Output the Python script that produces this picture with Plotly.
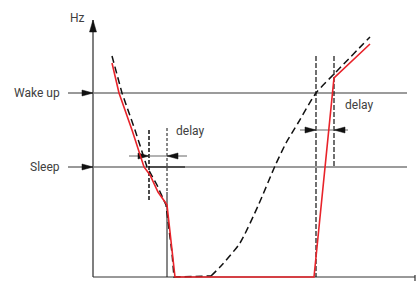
import plotly.graph_objects as go

# ---- data (time units, frequency units) ----
wake_level = 184
sleep_level = 110

red_t = [19, 26, 39, 47, 51, 57, 65, 72, 74, 82, 221, 241, 277]
red_f = [214, 184, 147, 121, 110, 102, 85, 75, 72, 0, 0, 199, 233]

dash_left_t = [19, 29, 42, 50, 54, 64, 71, 73, 79, 81, 118]
dash_left_f = [221, 184, 147, 121, 110, 92, 77, 72, 24, 0, 1]

dash_curve_t = [118, 128, 147, 165, 182, 193, 205, 223, 242, 277]
dash_curve_f = [1, 11, 34, 71, 111, 134, 154, 184, 204, 240]

# delay markers: [t_start, t_end]
left_delay = [56, 74]
right_delay = [223, 241]
left_delay_f = 121
right_delay_f = 147

axis_t_max = 322
axis_f_max = 257

RED = "#e8232a"
TXT = "#404040"
FONT = "Roboto, Liberation Sans, sans-serif"

fig = go.Figure()


def head(tx, ty, direction, length=10, half=3):
    if direction == "right":
        xs = [tx, tx - length, tx - length, tx]
        ys = [ty, ty + half, ty - half, ty]
    elif direction == "left":
        xs = [tx, tx + length, tx + length, tx]
        ys = [ty, ty + half, ty - half, ty]
    else:  # up
        xs = [tx, tx - half, tx + half, tx]
        ys = [ty, ty - length, ty - length, ty]
    fig.add_trace(go.Scatter(x=xs, y=ys, mode="lines", fill="toself",
                             fillcolor="#111", line=dict(color="#111", width=0.5),
                             hoverinfo="skip", showlegend=False))


def seg(xs, ys, color, width, dash="solid"):
    fig.add_trace(go.Scatter(x=xs, y=ys, mode="lines",
                             line=dict(color=color, width=width, dash=dash),
                             hoverinfo="skip", showlegend=False))


# axes
seg([0, 0], [0, axis_f_max], "#555", 1.5)
seg([0, axis_t_max], [0, 0], "#333", 1)
seg([axis_t_max, axis_t_max], [-4, 2], "#333", 1.2)
head(0, axis_f_max, "up", 12, 3.5)

# threshold lines
seg([0, 314], [wake_level, wake_level], "#7a7a7a", 1.5)
seg([0, 314], [sleep_level, sleep_level], "#7a7a7a", 1.5)
seg([left_delay[0], 92], [sleep_level, sleep_level], "#333", 1.5)

# label arrows from text to axis
for lv in (wake_level, sleep_level):
    seg([-25, 0], [lv, lv], "#333", 1)
    head(0, lv, "right", 11, 3)

# vertical delay markers
seg([left_delay[0]] * 2, [147, 75], "#111", 1.5, "4px,2px")
seg([left_delay[1]] * 2, [149, 85], "#111", 1, "3px,2px")
seg([left_delay[1]] * 2, [85, 0], "#111", 1)
seg([right_delay[0]] * 2, [221, 0], "#111", 1.2, "5px,2px")
seg([right_delay[1]] * 2, [221, sleep_level], "#111", 1.2, "5px,2px")

# delay arrows
seg([36, 94], [left_delay_f] * 2, "#666", 1)
head(left_delay[0], left_delay_f, "right", 11, 3)
head(left_delay[1], left_delay_f, "left", 11, 3)
seg([207, 255], [right_delay_f] * 2, "#666", 1)
head(right_delay[0], right_delay_f, "right", 11, 3)
head(right_delay[1], right_delay_f, "left", 11, 3)

# dashed reference frequency
seg(dash_left_t, dash_left_f, "#111", 1.5, "7px,4px")
fig.add_trace(go.Scatter(x=dash_curve_t, y=dash_curve_f, mode="lines",
                         line=dict(color="#111", width=1.5, dash="7px,4px",
                                   shape="spline", smoothing=0.6),
                         hoverinfo="skip", showlegend=False))

# red output frequency
seg(red_t, red_f, RED, 1.6)

# texts
def txt(x, y, s, anchor):
    fig.add_annotation(x=x, y=y, text=s, showarrow=False, xanchor=anchor,
                       yanchor="middle", font=dict(family=FONT, size=12, color=TXT))

txt(-16, 259, "Hz", "center")
txt(-31, wake_level, "Wake up", "right")
txt(-31, sleep_level, "Sleep", "right")
txt(81, 146, "delay", "left")
txt(250, 172, "delay", "left")

fig.update_layout(
    width=416, height=293,
    margin=dict(l=0, r=0, t=0, b=0),
    paper_bgcolor="white", plot_bgcolor="white",
    xaxis=dict(range=[-93, 323], visible=False, fixedrange=True),
    yaxis=dict(range=[-16, 277], visible=False, fixedrange=True),
    showlegend=False,
)
fig.write_html("out.html", post_script="document.body.style.margin='0';",
               config={"displayModeBar": False})
